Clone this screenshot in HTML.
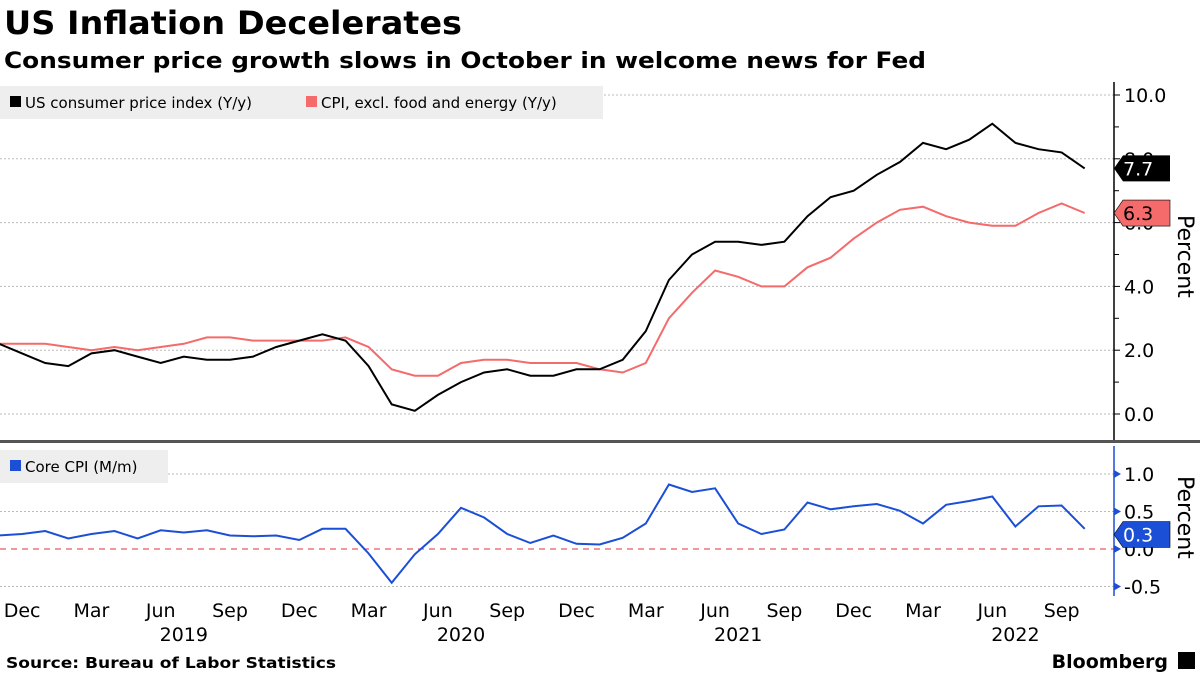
<!DOCTYPE html>
<html><head><meta charset="utf-8"><style>
body{margin:0;background:#fff;font-family:"DejaVu Sans","Liberation Sans",sans-serif;}
svg text{font-family:"DejaVu Sans","Liberation Sans",sans-serif;}
</style></head><body>
<svg width="1200" height="675" xmlns="http://www.w3.org/2000/svg">
<text x="4" y="34" font-size="32" font-weight="bold" fill="#000" textLength="458" lengthAdjust="spacingAndGlyphs">US Inflation Decelerates</text>
<text x="4" y="68" font-size="22" font-weight="bold" fill="#000" textLength="922" lengthAdjust="spacingAndGlyphs">Consumer price growth slows in October in welcome news for Fed</text>
<g id="gtop"></g><g id="gbot"></g><g id="gxax"></g>
<rect x="0" y="440" width="1200" height="3" fill="#555"/>
<text x="6" y="668" font-size="15" font-weight="bold" textLength="330" lengthAdjust="spacingAndGlyphs">Source: Bureau of Labor Statistics</text>
<text x="1168" y="668" font-size="19" font-weight="bold" text-anchor="end">Bloomberg</text>
<rect x="1178" y="652" width="17" height="17" fill="#000"/>
</svg>
<script>
const cpi=[2.2,1.9,1.6,1.5,1.9,2.0,1.8,1.6,1.8,1.7,1.7,1.8,2.1,2.3,2.5,2.3,1.5,0.3,0.1,0.6,1.0,1.3,1.4,1.2,1.2,1.4,1.4,1.7,2.6,4.2,5.0,5.4,5.4,5.3,5.4,6.2,6.8,7.0,7.5,7.9,8.5,8.3,8.6,9.1,8.5,8.3,8.2,7.7];
const core=[2.2,2.2,2.2,2.1,2.0,2.1,2.0,2.1,2.2,2.4,2.4,2.3,2.3,2.3,2.3,2.4,2.1,1.4,1.2,1.2,1.6,1.7,1.7,1.6,1.6,1.6,1.4,1.3,1.6,3.0,3.8,4.5,4.3,4.0,4.0,4.6,4.9,5.5,6.0,6.4,6.5,6.2,6.0,5.9,5.9,6.3,6.6,6.3];
const coreMm=[0.18,0.2,0.24,0.14,0.2,0.24,0.14,0.25,0.22,0.25,0.18,0.17,0.18,0.12,0.27,0.27,-0.06,-0.45,-0.07,0.2,0.55,0.42,0.2,0.08,0.18,0.07,0.06,0.15,0.34,0.86,0.76,0.81,0.34,0.2,0.26,0.62,0.53,0.57,0.6,0.51,0.34,0.59,0.64,0.7,0.3,0.57,0.58,0.27];
const topTicks=[0,2,4,6,8,10];
const botTicks=[-0.5,0,0.5,1.0];
const monthLabels=["Dec","Mar","Jun","Sep","Dec","Mar","Jun","Sep","Dec","Mar","Jun","Sep","Dec","Mar","Jun","Sep"];
const yearLabels=["2019","2020","2021","2022"];
const NS="http://www.w3.org/2000/svg";
function mk(p,t,a){const e=document.createElementNS(NS,t);for(const k in a)e.setAttribute(k,a[k]);p.appendChild(e);return e;}
const X=i=>-1+i*23.1;
const YT=v=>414-v*31.9;
const YB=v=>549-v*75;
const gTop=document.getElementById('gtop'),gBot=document.getElementById('gbot'),gX=document.getElementById('gxax');
const AX=1114;
topTicks.forEach(v=>{
 let g=mk(gTop,'line',{x1:0,x2:AX,y1:YT(v),y2:YT(v),stroke:'#bbb','stroke-dasharray':'2,2'});
 
 
 let t=mk(gTop,'text',{x:1124,y:YT(v)+7,'font-size':19});t.textContent=v.toFixed(1);
 
 
 mk(gTop,'line',{x1:AX,x2:AX+6,y1:YT(v),y2:YT(v),stroke:'#000'});
});
for(let v=1;v<=9;v+=2)mk(gTop,'line',{x1:AX,x2:AX+5,y1:YT(v),y2:YT(v),stroke:'#000'});
mk(gTop,'line',{x1:AX,x2:AX,y1:82,y2:440,stroke:'#000','stroke-width':1.5});
function path(arr,Y){return arr.map((v,i)=>(i?'L':'M')+X(i).toFixed(1)+','+Y(v).toFixed(1)).join('');}
let pc=mk(gTop,'path',{d:path(core,YT),fill:'none',stroke:'#f56a6a','stroke-width':2});


let pl=mk(gTop,'path',{d:path(cpi,YT),fill:'none',stroke:'#000','stroke-width':2});


function tag(p,v,y,col,name){
 const g=mk(p,'g',{});
 
 
 mk(g,'path',{d:`M${AX},${y} L${AX+9},${y-13} L1170,${y-13} L1170,${y+13} L${AX+9},${y+13}Z`,fill:col,stroke:'#000','stroke-width':col=='#000'?0:0.6});
 const t=mk(g,'text',{x:1123,y:y+7,'font-size':19,fill:col=='#f56a6a'?'#000':'#fff'});t.textContent=v.toFixed(1);
}
tag(gTop,cpi[cpi.length-1],YT(cpi[cpi.length-1]),'#000','cpi-last-value-tag');
tag(gTop,core[core.length-1],YT(core[core.length-1]),'#f56a6a','core-last-value-tag');
let pt=mk(gTop,'text',{x:0,y:0,'font-size':22,transform:'translate(1178,215) rotate(90)'});pt.textContent='Percent';


const lg=mk(gTop,'g',{});


mk(lg,'rect',{x:0,y:86,width:603,height:33,fill:'#eee'});
mk(lg,'rect',{x:10,y:96,width:11,height:11,fill:'#000'});
let l1=mk(lg,'text',{x:25,y:108,'font-size':15});l1.textContent='US consumer price index (Y/y)';
mk(lg,'rect',{x:306,y:96,width:11,height:11,fill:'#f56a6a'});
let l2=mk(lg,'text',{x:321,y:108,'font-size':15});l2.textContent='CPI, excl. food and energy (Y/y)';
botTicks.forEach(v=>{
 if(v!==0){let g=mk(gBot,'line',{x1:0,x2:AX,y1:YB(v),y2:YB(v),stroke:'#bbb','stroke-dasharray':'2,2'});
 
 }
 let t=mk(gBot,'text',{x:1124,y:YB(v)+7,'font-size':19});t.textContent=v.toFixed(1);
 
 
 mk(gBot,'path',{d:`M${AX},${YB(v)-4}L${AX+7},${YB(v)}L${AX},${YB(v)+4}Z`,fill:'#1a4fd6'});
});
let zl=mk(gBot,'line',{x1:0,x2:AX,y1:YB(0),y2:YB(0),stroke:'#e0303a','stroke-dasharray':'6,5'});


mk(gBot,'line',{x1:AX,x2:AX,y1:446,y2:596,stroke:'#1a4fd6','stroke-width':1.5});
let pb=mk(gBot,'path',{d:path(coreMm,YB),fill:'none',stroke:'#1a4fd6','stroke-width':2});


tag(gBot,coreMm[coreMm.length-1],YB(0.3)+8,'#1a4fd6','core-mm-last-value-tag');
let pt2=mk(gBot,'text',{x:0,y:0,'font-size':22,transform:'translate(1178,476) rotate(90)'});pt2.textContent='Percent';


const lb=mk(gBot,'g',{});


mk(lb,'rect',{x:0,y:450,width:168,height:33,fill:'#eee'});
mk(lb,'rect',{x:10,y:460,width:11,height:11,fill:'#1a4fd6'});
let l3=mk(lb,'text',{x:25,y:472,'font-size':15});l3.textContent='Core CPI (M/m)';
monthLabels.forEach((m,k)=>{
 const t=mk(gX,'text',{x:X(1+3*k),y:617,'font-size':19,'text-anchor':'middle'});t.textContent=m;
 
 
});
yearLabels.forEach((y,k)=>{
 const t=mk(gX,'text',{x:X(8+12*k),y:641,'font-size':19,'text-anchor':'middle'});t.textContent=y;
 
 
});
</script>
</body></html>
